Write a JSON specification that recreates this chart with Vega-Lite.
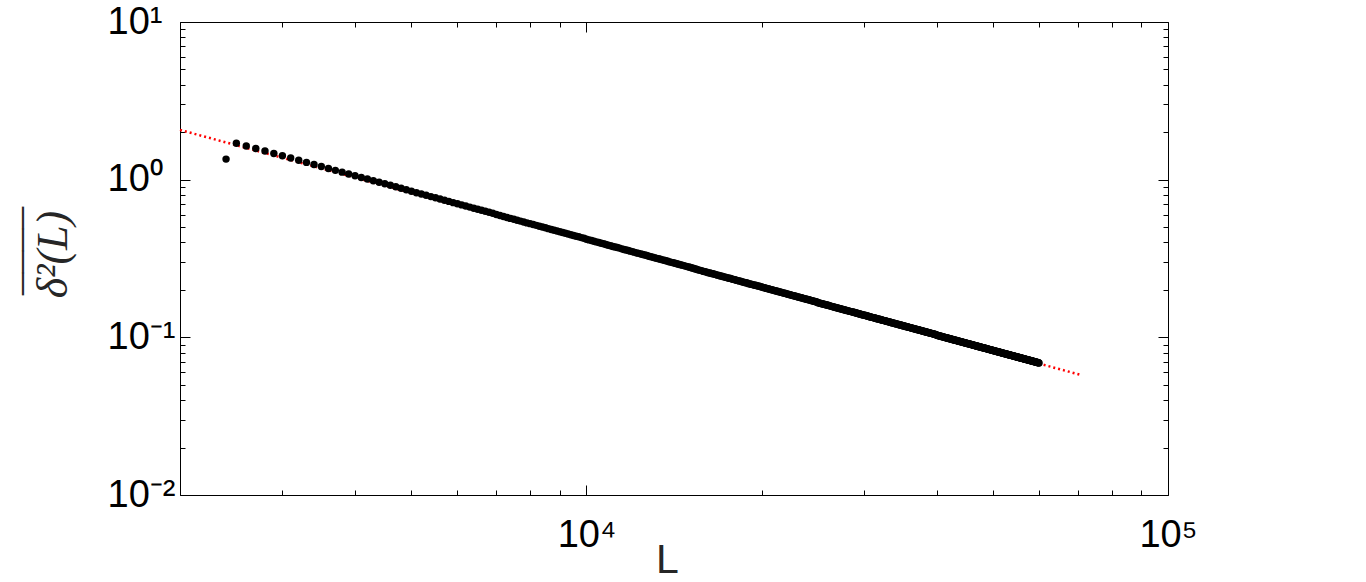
{
"$schema": "https://vega.github.io/schema/vega-lite/v6.json",
"width": 988,
"height": 473,
"autosize": {"type": "none"},
"padding": {"left": 180, "top": 22, "right": 198, "bottom": 87},
"background": "white",
"config": {
  "view": {"stroke": null},
  "axis": {"grid": false, "domainColor": "#000000", "domainWidth": 1, "tickColor": "#000000", "tickWidth": 1, "labelColor": "#000000", "labelFont": "Liberation Sans", "labelFontSize": 38, "labelOverlap": false, "labelFlush": false, "labelBound": false}
},
"layer": [
  {
    "data": {"values": [{"L": 2000, "fit": 2.068}, {"L": 70500, "fit": 0.058}]},
    "mark": {"type": "line", "color": "#ff0000", "strokeWidth": 2.5, "strokeDash": [2, 3]},
    "encoding": {
      "x": {"field": "L", "type": "quantitative", "scale": {"type": "log", "domain": [2000, 100000], "nice": false},
        "axis": {"orient": "bottom", "values": [2000,3000,4000,5000,6000,7000,8000,9000,10000,20000,30000,40000,50000,60000,70000,80000,90000,100000],
          "labelExpr": "datum.value == 10000 ? '10⁴' : datum.value == 100000 ? '10⁵' : ''",
          "tickSize": {"condition": {"test": "datum.value == 10000 || datum.value == 100000", "value": -10}, "value": -5},
          "labelPadding": 31, "labelBaseline": "top",
          "title": "L", "titleX": 487, "titleY": 45, "titleFont": "Liberation Sans", "titleFontSize": 41, "titleFontWeight": "normal", "titleColor": "#262626", "titleBaseline": "top"}},
      "y": {"field": "fit", "type": "quantitative", "scale": {"type": "log", "domain": [0.01, 10], "nice": false},
        "axis": {"orient": "left", "values": [0.01,0.02,0.03,0.04,0.05,0.06,0.07,0.08,0.09,0.1,0.2,0.3,0.4,0.5,0.6,0.7,0.8,0.9,1,2,3,4,5,6,7,8,9,10],
          "labelExpr": "datum.value == 10 ? '10¹' : datum.value == 1 ? '10⁰' : datum.value == 0.1 ? '10⁻¹' : datum.value == 0.01 ? '10⁻²' : ''",
          "tickSize": {"condition": {"test": "datum.value == 0.01 || datum.value == 0.1 || datum.value == 1 || datum.value == 10", "value": -10}, "value": -5},
          "labelAlign": "left", "labelBaseline": "middle", "labelPadding": 83,
          "title": ["¯¯¯¯", "δ²(L)"], "titleX": -160, "titleY": 232, "titleFont": "Liberation Serif", "titleFontStyle": "italic", "titleFontSize": 44, "titleLineHeight": 11, "titleFontWeight": "normal", "titleColor": "#262626", "titleBaseline": "top"}}
    }
  },
  {
    "data": {"values": [
{"L":2400,"d":1.35},{"L":2500,"d":1.703},{"L":2600,"d":1.637},{"L":2700,"d":1.576},{"L":2800,"d":1.519},{"L":2900,"d":1.466},
{"L":3000,"d":1.417},{"L":3100,"d":1.371},{"L":3200,"d":1.327},{"L":3300,"d":1.287},{"L":3400,"d":1.249},{"L":3500,"d":1.212},{"L":3600,"d":1.178},{"L":3700,"d":1.146},{"L":3800,"d":1.116},{"L":3900,"d":1.087},
{"L":4000,"d":1.060},{"L":4100,"d":1.033},{"L":4200,"d":1.009},{"L":4300,"d":0.985},{"L":4400,"d":0.963},{"L":4500,"d":0.941},{"L":4600,"d":0.921},{"L":4700,"d":0.901},{"L":4800,"d":0.882},{"L":4900,"d":0.864},
{"L":5000,"d":0.844},{"L":5100,"d":0.827},{"L":5200,"d":0.812},{"L":5300,"d":0.796},{"L":5400,"d":0.781},{"L":5500,"d":0.767},{"L":5600,"d":0.754},{"L":5700,"d":0.740},{"L":5800,"d":0.728},{"L":5900,"d":0.715},
{"L":6000,"d":0.703},{"L":6100,"d":0.692},{"L":6200,"d":0.681},{"L":6300,"d":0.670},{"L":6400,"d":0.659},{"L":6500,"d":0.649},{"L":6600,"d":0.639},{"L":6700,"d":0.630},{"L":6800,"d":0.621},{"L":6900,"d":0.612},
{"L":7000,"d":0.601},{"L":7100,"d":0.592},{"L":7200,"d":0.584},{"L":7300,"d":0.576},{"L":7400,"d":0.568},{"L":7500,"d":0.561},{"L":7600,"d":0.553},{"L":7700,"d":0.546},{"L":7800,"d":0.539},{"L":7900,"d":0.532},
{"L":8000,"d":0.526},{"L":8100,"d":0.519},{"L":8200,"d":0.513},{"L":8300,"d":0.507},{"L":8400,"d":0.501},{"L":8500,"d":0.495},{"L":8600,"d":0.489},{"L":8700,"d":0.483},{"L":8800,"d":0.478},{"L":8900,"d":0.472},
{"L":9000,"d":0.467},{"L":9100,"d":0.462},{"L":9200,"d":0.457},{"L":9300,"d":0.452},{"L":9400,"d":0.447},{"L":9500,"d":0.443},{"L":9600,"d":0.438},{"L":9700,"d":0.434},{"L":9800,"d":0.429},{"L":9900,"d":0.425},
{"L":10000,"d":0.419},{"L":10100,"d":0.415},{"L":10200,"d":0.411},{"L":10300,"d":0.407},{"L":10400,"d":0.403},{"L":10500,"d":0.399},{"L":10600,"d":0.395},{"L":10700,"d":0.392},{"L":10800,"d":0.388},{"L":10900,"d":0.384},
{"L":11000,"d":0.381},{"L":11100,"d":0.377},{"L":11200,"d":0.374},{"L":11300,"d":0.371},{"L":11400,"d":0.368},{"L":11500,"d":0.364},{"L":11600,"d":0.361},{"L":11700,"d":0.358},{"L":11800,"d":0.355},{"L":11900,"d":0.352},
{"L":12000,"d":0.349},{"L":12100,"d":0.346},{"L":12200,"d":0.343},{"L":12300,"d":0.341},{"L":12400,"d":0.338},{"L":12500,"d":0.335},{"L":12600,"d":0.333},{"L":12700,"d":0.330},{"L":12800,"d":0.327},{"L":12900,"d":0.325},
{"L":13000,"d":0.322},{"L":13100,"d":0.320},{"L":13200,"d":0.317},{"L":13300,"d":0.315},{"L":13400,"d":0.313},{"L":13500,"d":0.310},{"L":13600,"d":0.308},{"L":13700,"d":0.306},{"L":13800,"d":0.304},{"L":13900,"d":0.301},
{"L":14000,"d":0.299},{"L":14100,"d":0.297},{"L":14200,"d":0.295},{"L":14300,"d":0.293},{"L":14400,"d":0.291},{"L":14500,"d":0.289},{"L":14600,"d":0.287},{"L":14700,"d":0.285},{"L":14800,"d":0.283},{"L":14900,"d":0.281},
{"L":15000,"d":0.279},{"L":15100,"d":0.277},{"L":15200,"d":0.275},{"L":15300,"d":0.273},{"L":15400,"d":0.271},{"L":15500,"d":0.269},{"L":15600,"d":0.267},{"L":15700,"d":0.266},{"L":15800,"d":0.264},{"L":15900,"d":0.262},
{"L":16000,"d":0.261},{"L":16100,"d":0.259},{"L":16200,"d":0.257},{"L":16300,"d":0.256},{"L":16400,"d":0.254},{"L":16500,"d":0.253},{"L":16600,"d":0.251},{"L":16700,"d":0.250},{"L":16800,"d":0.248},{"L":16900,"d":0.247},
{"L":17000,"d":0.245},{"L":17100,"d":0.244},{"L":17200,"d":0.242},{"L":17300,"d":0.241},{"L":17400,"d":0.240},{"L":17500,"d":0.238},{"L":17600,"d":0.237},{"L":17700,"d":0.236},{"L":17800,"d":0.234},{"L":17900,"d":0.233},
{"L":18000,"d":0.232},{"L":18100,"d":0.230},{"L":18200,"d":0.229},{"L":18300,"d":0.228},{"L":18400,"d":0.227},{"L":18500,"d":0.225},{"L":18600,"d":0.224},{"L":18700,"d":0.223},{"L":18800,"d":0.222},{"L":18900,"d":0.221},
{"L":19000,"d":0.219},{"L":19100,"d":0.218},{"L":19200,"d":0.217},{"L":19300,"d":0.216},{"L":19400,"d":0.215},{"L":19500,"d":0.214},{"L":19600,"d":0.213},{"L":19700,"d":0.212},{"L":19800,"d":0.211},{"L":19900,"d":0.210},
{"L":20000,"d":0.2085},{"L":20100,"d":0.2075},{"L":20200,"d":0.2064},{"L":20300,"d":0.2054},{"L":20400,"d":0.2044},{"L":20500,"d":0.2034},{"L":20600,"d":0.2024},{"L":20700,"d":0.2015},{"L":20800,"d":0.2005},{"L":20900,"d":0.1995},
{"L":21000,"d":0.1986},{"L":21100,"d":0.1976},{"L":21200,"d":0.1967},{"L":21300,"d":0.1958},{"L":21400,"d":0.1949},{"L":21500,"d":0.1940},{"L":21600,"d":0.1931},{"L":21700,"d":0.1922},{"L":21800,"d":0.1913},{"L":21900,"d":0.1904},
{"L":22000,"d":0.1895},{"L":22100,"d":0.1887},{"L":22200,"d":0.1878},{"L":22300,"d":0.1870},{"L":22400,"d":0.1862},{"L":22500,"d":0.1853},{"L":22600,"d":0.1845},{"L":22700,"d":0.1837},{"L":22800,"d":0.1829},{"L":22900,"d":0.1821},
{"L":23000,"d":0.1813},{"L":23100,"d":0.1805},{"L":23200,"d":0.1797},{"L":23300,"d":0.1790},{"L":23400,"d":0.1782},{"L":23500,"d":0.1774},{"L":23600,"d":0.1767},{"L":23700,"d":0.1759},{"L":23800,"d":0.1752},{"L":23900,"d":0.1745},
{"L":24000,"d":0.1738},{"L":24100,"d":0.1730},{"L":24200,"d":0.1723},{"L":24300,"d":0.1716},{"L":24400,"d":0.1709},{"L":24500,"d":0.1702},{"L":24600,"d":0.1695},{"L":24700,"d":0.1688},{"L":24800,"d":0.1681},{"L":24900,"d":0.1675},
{"L":25000,"d":0.1660},{"L":25100,"d":0.1653},{"L":25200,"d":0.1647},{"L":25300,"d":0.1640},{"L":25400,"d":0.1634},{"L":25500,"d":0.1627},{"L":25600,"d":0.1621},{"L":25700,"d":0.1615},{"L":25800,"d":0.1609},{"L":25900,"d":0.1602},
{"L":26000,"d":0.1596},{"L":26100,"d":0.1590},{"L":26200,"d":0.1584},{"L":26300,"d":0.1578},{"L":26400,"d":0.1572},{"L":26500,"d":0.1566},{"L":26600,"d":0.1560},{"L":26700,"d":0.1554},{"L":26800,"d":0.1549},{"L":26900,"d":0.1543},
{"L":27000,"d":0.1537},{"L":27100,"d":0.1531},{"L":27200,"d":0.1526},{"L":27300,"d":0.1520},{"L":27400,"d":0.1515},{"L":27500,"d":0.1509},{"L":27600,"d":0.1504},{"L":27700,"d":0.1498},{"L":27800,"d":0.1493},{"L":27900,"d":0.1487},
{"L":28000,"d":0.1482},{"L":28100,"d":0.1477},{"L":28200,"d":0.1472},{"L":28300,"d":0.1466},{"L":28400,"d":0.1461},{"L":28500,"d":0.1456},{"L":28600,"d":0.1451},{"L":28700,"d":0.1446},{"L":28800,"d":0.1441},{"L":28900,"d":0.1436},
{"L":29000,"d":0.1431},{"L":29100,"d":0.1426},{"L":29200,"d":0.1421},{"L":29300,"d":0.1416},{"L":29400,"d":0.1412},{"L":29500,"d":0.1407},{"L":29600,"d":0.1402},{"L":29700,"d":0.1397},{"L":29800,"d":0.1393},{"L":29900,"d":0.1388},
{"L":30000,"d":0.1383},{"L":30100,"d":0.1379},{"L":30200,"d":0.1374},{"L":30300,"d":0.1370},{"L":30400,"d":0.1365},{"L":30500,"d":0.1361},{"L":30600,"d":0.1356},{"L":30700,"d":0.1352},{"L":30800,"d":0.1347},{"L":30900,"d":0.1343},
{"L":31000,"d":0.1339},{"L":31100,"d":0.1334},{"L":31200,"d":0.1330},{"L":31300,"d":0.1326},{"L":31400,"d":0.1322},{"L":31500,"d":0.1317},{"L":31600,"d":0.1313},{"L":31700,"d":0.1309},{"L":31800,"d":0.1305},{"L":31900,"d":0.1301},
{"L":32000,"d":0.1297},{"L":32100,"d":0.1293},{"L":32200,"d":0.1289},{"L":32300,"d":0.1285},{"L":32400,"d":0.1281},{"L":32500,"d":0.1277},{"L":32600,"d":0.1273},{"L":32700,"d":0.1269},{"L":32800,"d":0.1265},{"L":32900,"d":0.1261},
{"L":33000,"d":0.1258},{"L":33100,"d":0.1254},{"L":33200,"d":0.1250},{"L":33300,"d":0.1246},{"L":33400,"d":0.1243},{"L":33500,"d":0.1239},{"L":33600,"d":0.1235},{"L":33700,"d":0.1231},{"L":33800,"d":0.1228},{"L":33900,"d":0.1224},
{"L":34000,"d":0.1221},{"L":34100,"d":0.1217},{"L":34200,"d":0.1213},{"L":34300,"d":0.1210},{"L":34400,"d":0.1206},{"L":34500,"d":0.1203},{"L":34600,"d":0.1199},{"L":34700,"d":0.1196},{"L":34800,"d":0.1193},{"L":34900,"d":0.1189},
{"L":35000,"d":0.1186},{"L":35100,"d":0.1182},{"L":35200,"d":0.1179},{"L":35300,"d":0.1176},{"L":35400,"d":0.1172},{"L":35500,"d":0.1169},{"L":35600,"d":0.1166},{"L":35700,"d":0.1162},{"L":35800,"d":0.1159},{"L":35900,"d":0.1156},
{"L":36000,"d":0.1153},{"L":36100,"d":0.1150},{"L":36200,"d":0.1146},{"L":36300,"d":0.1143},{"L":36400,"d":0.1140},{"L":36500,"d":0.1137},{"L":36600,"d":0.1134},{"L":36700,"d":0.1131},{"L":36800,"d":0.1128},{"L":36900,"d":0.1125},
{"L":37000,"d":0.1122},{"L":37100,"d":0.1119},{"L":37200,"d":0.1116},{"L":37300,"d":0.1113},{"L":37400,"d":0.1110},{"L":37500,"d":0.1107},{"L":37600,"d":0.1104},{"L":37700,"d":0.1101},{"L":37800,"d":0.1098},{"L":37900,"d":0.1095},
{"L":38000,"d":0.1092},{"L":38100,"d":0.1089},{"L":38200,"d":0.1086},{"L":38300,"d":0.1084},{"L":38400,"d":0.1081},{"L":38500,"d":0.1078},{"L":38600,"d":0.1075},{"L":38700,"d":0.1072},{"L":38800,"d":0.1070},{"L":38900,"d":0.1067},
{"L":39000,"d":0.1064},{"L":39100,"d":0.1061},{"L":39200,"d":0.1059},{"L":39300,"d":0.1056},{"L":39400,"d":0.1053},{"L":39500,"d":0.1051},{"L":39600,"d":0.1048},{"L":39700,"d":0.1045},{"L":39800,"d":0.1043},{"L":39900,"d":0.1040},
{"L":40000,"d":0.1033},{"L":40100,"d":0.1030},{"L":40200,"d":0.1027},{"L":40300,"d":0.1025},{"L":40400,"d":0.1022},{"L":40500,"d":0.1020},{"L":40600,"d":0.1017},{"L":40700,"d":0.1015},{"L":40800,"d":0.1012},{"L":40900,"d":0.1010},
{"L":41000,"d":0.1007},{"L":41100,"d":0.1005},{"L":41200,"d":0.1002},{"L":41300,"d":0.1000},{"L":41400,"d":0.0998},{"L":41500,"d":0.0995},{"L":41600,"d":0.0993},{"L":41700,"d":0.0990},{"L":41800,"d":0.0988},{"L":41900,"d":0.0986},
{"L":42000,"d":0.0983},{"L":42100,"d":0.0981},{"L":42200,"d":0.0979},{"L":42300,"d":0.0976},{"L":42400,"d":0.0974},{"L":42500,"d":0.0972},{"L":42600,"d":0.0969},{"L":42700,"d":0.0967},{"L":42800,"d":0.0965},{"L":42900,"d":0.0963},
{"L":43000,"d":0.0960},{"L":43100,"d":0.0958},{"L":43200,"d":0.0956},{"L":43300,"d":0.0954},{"L":43400,"d":0.0952},{"L":43500,"d":0.0949},{"L":43600,"d":0.0947},{"L":43700,"d":0.0945},{"L":43800,"d":0.0943},{"L":43900,"d":0.0941},
{"L":44000,"d":0.0939},{"L":44100,"d":0.0937},{"L":44200,"d":0.0934},{"L":44300,"d":0.0932},{"L":44400,"d":0.0930},{"L":44500,"d":0.0928},{"L":44600,"d":0.0926},{"L":44700,"d":0.0924},{"L":44800,"d":0.0922},{"L":44900,"d":0.0920},
{"L":45000,"d":0.0918},{"L":45100,"d":0.0916},{"L":45200,"d":0.0914},{"L":45300,"d":0.0912},{"L":45400,"d":0.0910},{"L":45500,"d":0.0908},{"L":45600,"d":0.0906},{"L":45700,"d":0.0904},{"L":45800,"d":0.0902},{"L":45900,"d":0.0900},
{"L":46000,"d":0.0898},{"L":46100,"d":0.0896},{"L":46200,"d":0.0894},{"L":46300,"d":0.0892},{"L":46400,"d":0.0890},{"L":46500,"d":0.0888},{"L":46600,"d":0.0886},{"L":46700,"d":0.0884},{"L":46800,"d":0.0882},{"L":46900,"d":0.0881},
{"L":47000,"d":0.0879},{"L":47100,"d":0.0877},{"L":47200,"d":0.0875},{"L":47300,"d":0.0873},{"L":47400,"d":0.0871},{"L":47500,"d":0.0869},{"L":47600,"d":0.0868},{"L":47700,"d":0.0866},{"L":47800,"d":0.0864},{"L":47900,"d":0.0862},
{"L":48000,"d":0.0860},{"L":48100,"d":0.0859},{"L":48200,"d":0.0857},{"L":48300,"d":0.0855},{"L":48400,"d":0.0853},{"L":48500,"d":0.0852},{"L":48600,"d":0.0850},{"L":48700,"d":0.0848},{"L":48800,"d":0.0846},{"L":48900,"d":0.0845},
{"L":49000,"d":0.0843},{"L":49100,"d":0.0841},{"L":49200,"d":0.0839},{"L":49300,"d":0.0838},{"L":49400,"d":0.0836},{"L":49500,"d":0.0834},{"L":49600,"d":0.0833},{"L":49700,"d":0.0831},{"L":49800,"d":0.0829},{"L":49900,"d":0.0828},
{"L":50000,"d":0.0826},{"L":50100,"d":0.0824},{"L":50200,"d":0.0823},{"L":50300,"d":0.0821},{"L":50400,"d":0.0819},{"L":50500,"d":0.0818},{"L":50600,"d":0.0816},{"L":50700,"d":0.0815},{"L":50800,"d":0.0813},{"L":50900,"d":0.0811},
{"L":51000,"d":0.0810},{"L":51100,"d":0.0808},{"L":51200,"d":0.0807},{"L":51300,"d":0.0805},{"L":51400,"d":0.0804},{"L":51500,"d":0.0802},{"L":51600,"d":0.0800},{"L":51700,"d":0.0799},{"L":51800,"d":0.0797},{"L":51900,"d":0.0796},
{"L":52000,"d":0.0794},{"L":52100,"d":0.0793},{"L":52200,"d":0.0791},{"L":52300,"d":0.0790},{"L":52400,"d":0.0788},{"L":52500,"d":0.0787},{"L":52600,"d":0.0785},{"L":52700,"d":0.0784},{"L":52800,"d":0.0782},{"L":52900,"d":0.0781},
{"L":53000,"d":0.0779},{"L":53100,"d":0.0778},{"L":53200,"d":0.0776},{"L":53300,"d":0.0775},{"L":53400,"d":0.0773},{"L":53500,"d":0.0772},{"L":53600,"d":0.0771},{"L":53700,"d":0.0769},{"L":53800,"d":0.0768},{"L":53900,"d":0.0766},
{"L":54000,"d":0.0765},{"L":54100,"d":0.0763},{"L":54200,"d":0.0762},{"L":54300,"d":0.0761},{"L":54400,"d":0.0759},{"L":54500,"d":0.0758},{"L":54600,"d":0.0756},{"L":54700,"d":0.0755},{"L":54800,"d":0.0754},{"L":54900,"d":0.0752},
{"L":55000,"d":0.0751},{"L":55100,"d":0.0750},{"L":55200,"d":0.0748},{"L":55300,"d":0.0747},{"L":55400,"d":0.0745},{"L":55500,"d":0.0744},{"L":55600,"d":0.0743},{"L":55700,"d":0.0741},{"L":55800,"d":0.0740},{"L":55900,"d":0.0739},
{"L":56000,"d":0.0738},{"L":56100,"d":0.0736},{"L":56200,"d":0.0735},{"L":56300,"d":0.0734},{"L":56400,"d":0.0732},{"L":56500,"d":0.0731},{"L":56600,"d":0.0730},{"L":56700,"d":0.0728},{"L":56800,"d":0.0727},{"L":56900,"d":0.0726},
{"L":57000,"d":0.0725},{"L":57100,"d":0.0723},{"L":57200,"d":0.0722},{"L":57300,"d":0.0721},{"L":57400,"d":0.0720},{"L":57500,"d":0.0718},{"L":57600,"d":0.0717},{"L":57700,"d":0.0716},{"L":57800,"d":0.0715},{"L":57900,"d":0.0713},
{"L":58000,"d":0.0712},{"L":58100,"d":0.0711},{"L":58200,"d":0.0710},{"L":58300,"d":0.0708},{"L":58400,"d":0.0707},{"L":58500,"d":0.0706},{"L":58600,"d":0.0705},{"L":58700,"d":0.0704},{"L":58800,"d":0.0702},{"L":58900,"d":0.0701},
{"L":59000,"d":0.0700},{"L":59100,"d":0.0699},{"L":59200,"d":0.0698},{"L":59300,"d":0.0696},{"L":59400,"d":0.0695},{"L":59500,"d":0.0694},{"L":59600,"d":0.0693},{"L":59700,"d":0.0692},{"L":59800,"d":0.0691},{"L":59900,"d":0.0689},
{"L":60000,"d":0.0688}
    ]},
    "mark": {"type": "circle", "size": 55, "color": "#000000", "opacity": 1},
    "encoding": {
      "x": {"field": "L", "type": "quantitative", "scale": {"type": "log", "domain": [2000, 100000], "nice": false},
        "axis": {"orient": "top", "values": [2000,3000,4000,5000,6000,7000,8000,9000,10000,20000,30000,40000,50000,60000,70000,80000,90000,100000],
          "labels": false, "title": null,
          "tickSize": {"condition": {"test": "datum.value == 10000 || datum.value == 100000", "value": -10}, "value": -5}}},
      "y": {"field": "d", "type": "quantitative", "scale": {"type": "log", "domain": [0.01, 10], "nice": false},
        "axis": {"orient": "right", "values": [0.01,0.02,0.03,0.04,0.05,0.06,0.07,0.08,0.09,0.1,0.2,0.3,0.4,0.5,0.6,0.7,0.8,0.9,1,2,3,4,5,6,7,8,9,10],
          "labels": false, "title": null,
          "tickSize": {"condition": {"test": "datum.value == 0.01 || datum.value == 0.1 || datum.value == 1 || datum.value == 10", "value": -10}, "value": -5}}}
    }
  }
],
"resolve": {"axis": {"x": "independent", "y": "independent"}}
}
